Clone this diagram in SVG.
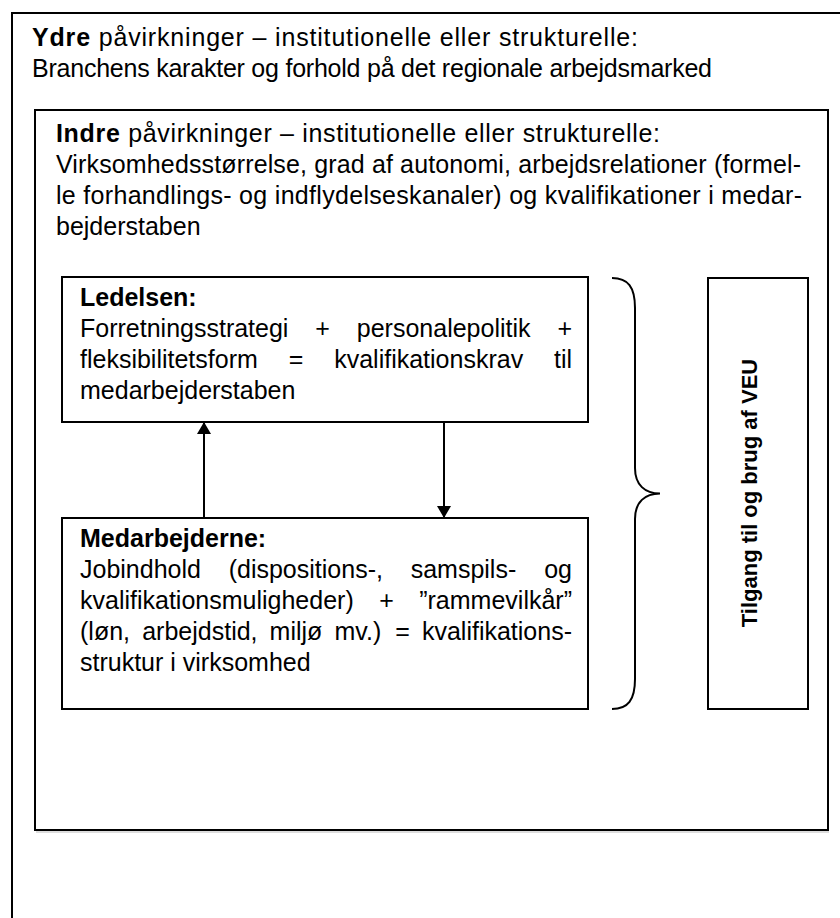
<svg xmlns="http://www.w3.org/2000/svg" width="840" height="918" viewBox="0 0 840 918">
<defs>
<style>
.t{font-family:"Liberation Sans",Arial,sans-serif;font-size:25px;fill:#000}
.b{font-weight:bold}
.box{fill:none;stroke:#000;stroke-width:2}
.ln{fill:none;stroke:#000;stroke-width:2}
.v{font-family:"Liberation Sans",Arial,sans-serif;font-size:22px;font-weight:bold;fill:#000}
</style>
<marker id="ah" viewBox="0 0 12 14" refX="11" refY="7" markerWidth="12" markerHeight="14" markerUnits="userSpaceOnUse" orient="auto">
<path d="M0,0 L12,7 L0,14 z" fill="#000"/>
</marker>
</defs>
<rect width="840" height="918" fill="#fff"/>
<g id="outer">
<path class="box" d="M845,13 L12,13 L12,925"/>
<text class="t" x="32" y="46" textLength="606" lengthAdjust="spacing"><tspan class="b">Ydre</tspan> påvirkninger – institutionelle eller strukturelle:</text>
<text class="t" x="32" y="77" textLength="680" lengthAdjust="spacing">Branchens karakter og forhold på det regionale arbejdsmarked</text>
</g>
<g id="inner">
<line x1="36" y1="832" x2="829" y2="832" stroke="#bbb" stroke-width="1"/>
<rect class="box" x="35" y="110" width="793" height="720"/>
<text class="t" x="56" y="142" textLength="604" lengthAdjust="spacing"><tspan class="b">Indre</tspan> påvirkninger – institutionelle eller strukturelle:</text>
<text class="t" x="56" y="173" textLength="745" lengthAdjust="spacing">Virksomhedsstørrelse, grad af autonomi, arbejdsrelationer (formel-</text>
<text class="t" x="56" y="204" textLength="746" lengthAdjust="spacing">le forhandlings- og indflydelseskanaler) og kvalifikationer i medar-</text>
<text class="t" x="56" y="235">bejderstaben</text>
</g>
<g id="ledelsen">
<rect class="box" x="62" y="277" width="526" height="145"/>
<text class="t b" x="80" y="306">Ledelsen:</text>
<text class="t" y="337"><tspan x="80">Forretningsstrategi</tspan><tspan x="315.3">+</tspan><tspan x="356.8">personalepolitik</tspan></text>
<text class="t" x="572" y="337" text-anchor="end">+</text>
<text class="t" y="368"><tspan x="80">fleksibilitetsform</tspan><tspan x="288.7">=</tspan><tspan x="334.2">kvalifikationskrav</tspan></text>
<text class="t" x="572" y="368" text-anchor="end">til</text>
<text class="t" x="80" y="399">medarbejderstaben</text>
</g>
<g id="medarbejderne">
<rect class="box" x="62" y="518" width="526" height="191"/>
<text class="t b" x="80" y="547">Medarbejderne:</text>
<text class="t" y="578"><tspan x="80">Jobindhold</tspan><tspan x="228.7">(dispositions-,</tspan><tspan x="410.7">samspils-</tspan></text>
<text class="t" x="572" y="578" text-anchor="end">og</text>
<text class="t" y="609"><tspan x="80">kvalifikationsmuligheder)</tspan><tspan x="379.2">+</tspan></text>
<text class="t" x="572" y="609" text-anchor="end">”rammevilkår”</text>
<text class="t" y="640"><tspan x="80">(løn,</tspan><tspan x="142.2">arbejdstid,</tspan><tspan x="269.6">miljø</tspan><tspan x="334.5">mv.)</tspan><tspan x="395.3">=</tspan></text>
<text class="t" x="572" y="640" text-anchor="end">kvalifikations-</text>
<text class="t" x="80" y="671">struktur i virksomhed</text>
</g>
<g id="brace">
<path class="ln" d="M612,278 C628,278 635,287 635,308 L635,468 C635,485 645,493.5 660,493.5 C645,493.5 635,502 635,519 L635,679 C635,700 628,709 612,709"/>
</g>
<g id="veu">
<rect class="box" x="708" y="278" width="100" height="431"/>
<text class="v" transform="translate(757,493) rotate(-90)" text-anchor="middle">Tilgang til og brug af VEU</text>
</g>
<g id="connectors">
<line class="ln" x1="204" y1="518" x2="204" y2="423" marker-end="url(#ah)"/>
<line class="ln" x1="444" y1="422" x2="444" y2="517" marker-end="url(#ah)"/>
</g>
</svg>
